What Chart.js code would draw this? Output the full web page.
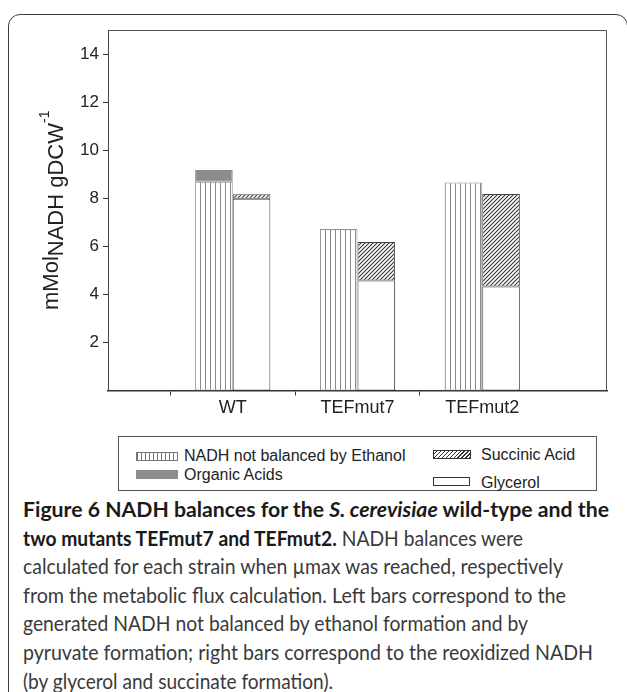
<!DOCTYPE html>
<html>
<head>
<meta charset="utf-8">
<script src="https://cdn.jsdelivr.net/npm/chart.js@4/dist/chart.umd.min.js"></script>
<style>
  html, body { margin:0; padding:0; background:#fff; }
  body { width:627px; height:692px; position:relative; overflow:hidden; font-family:"Liberation Sans", Arial, sans-serif; }
  #frame { position:absolute; left:8px; top:14px; width:620px; height:720px; border:1.6px solid #3a3a3a; border-radius:12px; box-sizing:border-box; }
  #wrap { position:absolute; left:0; top:0; width:627px; height:425px; }
  #legend { position:absolute; left:118px; top:436px; width:479px; height:55px; border:1.4px solid #555; box-sizing:border-box; }
  .li { position:absolute; font-size:16px; color:#222; white-space:nowrap; line-height:18px; }
  .sw { position:absolute; width:42px; height:9px; box-sizing:border-box; }
  #caption { position:absolute; left:23px; top:495px; font-family:Lato, "Open Sans", sans-serif; font-size:21px; color:#3a3a3a; }
  .cl { position:absolute; left:0; white-space:nowrap; transform-origin:0 0; font-weight:400; line-height:28px; }
  .cl b { color:#1a1a1a; font-weight:700; }
</style>
</head>
<body>
<div id="frame"></div>
<div id="wrap"><canvas id="c" width="627" height="425"></canvas></div>
<div id="legend"></div>
<div id="caption"></div>
<script>
// ---- data ----
const categories   = ['', 'WT', 'TEFmut7', 'TEFmut2', ''];
const nadhNotBalanced = [null, 8.69, 6.72, 8.65, null];
const organicAcids    = [null, 0.48, null, null, null];
const glycerol        = [null, 7.98, 4.58, 4.33, null];
const succinicAcid    = [null, 0.19, 1.60, 3.85, null];
const yTicks = [2, 4, 6, 8, 10, 12, 14];
const seriesNames = ['NADH not balanced by Ethanol', 'Organic Acids', 'Succinic Acid', 'Glycerol'];
const yTitleParts = [
  { t: 'mMol', size: 22, dy: 0 },
  { t: 'NADH gDCW', size: 22, dy: 5 },
  { t: '-1', size: 14, dy: -9 }
];
const captionLines = [
  '<b>Figure 6 NADH balances for the <i>S. cerevisiae</i> wild-type and the</b>',
  '<b>two mutants TEFmut7 and TEFmut2.</b> NADH balances were',
  'calculated for each strain when µmax was reached, respectively',
  'from the metabolic flux calculation. Left bars correspond to the',
  'generated NADH not balanced by ethanol formation and by',
  'pyruvate formation; right bars correspond to the reoxidized NADH',
  '(by glycerol and succinate formation).'
];
const captionLineWidths = [586, 500, 540, 543, 505, 570, 310];

// ---- patterns ----
function stripePattern() {
  const c = document.createElement('canvas'); c.width = 5; c.height = 5;
  const g = c.getContext('2d');
  g.fillStyle = '#fff'; g.fillRect(0,0,5,5);
  g.fillStyle = '#8a8a8a'; g.fillRect(0,0,1,5);
  return g.createPattern(c, 'repeat');
}
function hatchPattern() {
  const s = 4;
  const c = document.createElement('canvas'); c.width = s; c.height = s;
  const g = c.getContext('2d');
  g.fillStyle = '#fff'; g.fillRect(0,0,s,s);
  g.strokeStyle = '#333'; g.lineWidth = 1.1;
  g.beginPath();
  g.moveTo(-1, s+1); g.lineTo(s+1, -1);
  g.moveTo(-1, 1); g.lineTo(1, -1);
  g.moveTo(s-1, s+1); g.lineTo(s+1, s-1);
  g.stroke();
  return g.createPattern(c, 'repeat');
}
const ctx = document.getElementById('c').getContext('2d');
const stripe = stripePattern();
const hatch = hatchPattern();

const frameBox = {
  id: 'frameBox',
  afterDatasetsDraw(chart) {
    const a = chart.chartArea, g = chart.ctx;
    g.save();
    g.strokeStyle = '#555'; g.lineWidth = 1;
    g.beginPath();
    g.moveTo(a.left, a.top + 0.5); g.lineTo(a.right - 0.5, a.top + 0.5); g.lineTo(a.right - 0.5, a.bottom);
    g.stroke();
    g.restore();
  }
};
const yTitle = {
  id: 'yTitle',
  afterDraw(chart) {
    const g = chart.ctx, a = chart.chartArea;
    g.save();
    g.fillStyle = '#222';
    g.textBaseline = 'alphabetic';
    let total = 0;
    yTitleParts.forEach(p => { g.font = p.size + 'px "Liberation Sans", Arial'; p.w = g.measureText(p.t).width; total += p.w; });
    g.translate(58, (a.top + a.bottom) / 2);
    g.rotate(-Math.PI / 2);
    let x = -total / 2;
    yTitleParts.forEach(p => { g.font = p.size + 'px "Liberation Sans", Arial'; g.fillText(p.t, x, p.dy); x += p.w; });
    g.restore();
  }
};

new Chart(ctx, {
  type: 'bar',
  data: {
    labels: categories,
    datasets: [
      { label: seriesNames[0], data: nadhNotBalanced, stack: 'L', backgroundColor: stripe, borderColor: '#8f8f8f', borderWidth: 1, borderSkipped: false },
      { label: seriesNames[1], data: organicAcids, stack: 'L', backgroundColor: '#8c8c8c', borderColor: '#8c8c8c', borderWidth: 1, borderSkipped: false },
      { label: seriesNames[3], data: glycerol, stack: 'R', backgroundColor: '#fff', borderColor: '#444', borderWidth: 1, borderSkipped: false },
      { label: seriesNames[2], data: succinicAcid, stack: 'R', backgroundColor: hatch, borderColor: '#444', borderWidth: 1, borderSkipped: false }
    ]
  },
  options: {
    responsive: false,
    animation: false,
    layout: { padding: { top: 30, right: 20, left: 0, bottom: 0 } },
    plugins: { legend: { display: false }, tooltip: { enabled: false } },
    datasets: { bar: { categoryPercentage: 0.603, barPercentage: 1 } },
    scales: {
      x: {
        stacked: true,
        offset: false,
        grid: { drawOnChartArea: false, drawTicks: true, tickLength: 5, color: c => categories[c.index] ? '#333' : 'rgba(0,0,0,0)', lineWidth: 1 },
        border: { display: true, color: '#333', width: 1.6 },
        ticks: { autoSkip: false, maxRotation: 0, padding: 2, color: '#222', font: { family: '"Liberation Sans", Arial', size: 18 } },
        afterFit: s => { s.height = 34.5; }
      },
      y: {
        stacked: true,
        min: 0, max: 15,
        afterBuildTicks: s => { s.ticks = yTicks.map(v => ({ value: v })); },
        grid: { drawOnChartArea: false, drawTicks: true, tickLength: 5, color: '#333' },
        border: { display: true, color: '#444', width: 1 },
        ticks: { padding: 4, color: '#222', font: { family: '"Liberation Sans", Arial', size: 17 } },
        afterFit: s => { s.width = 108; }
      }
    }
  },
  plugins: [frameBox, yTitle]
});

// ---- legend ----
const leg = document.getElementById('legend');
const legItems = [
  { name: seriesNames[0], sx: 17, sy: 15, tx: 65, ty: 10, sw: 'background:repeating-linear-gradient(90deg,#777 0 1px,#fff 1px 4px);border:1px solid #777;' },
  { name: seriesNames[1], sx: 17, sy: 33, tx: 65, ty: 29, sw: 'background:#8c8c8c;' },
  { name: seriesNames[2], sx: 314, sy: 13, tx: 362, ty: 9, sw: 'width:38px;background:repeating-linear-gradient(135deg,#fff 0 1.6px,#333 1.6px 2.8px);border:1px solid #333;' },
  { name: seriesNames[3], sx: 314, sy: 40, tx: 362, ty: 37, sw: 'width:37px;background:#fff;border:1.2px solid #333;' }
];
legItems.forEach(it => {
  const s = document.createElement('div'); s.className = 'sw';
  s.style.cssText = 'left:' + it.sx + 'px;top:' + it.sy + 'px;' + it.sw;
  leg.appendChild(s);
  const t = document.createElement('div'); t.className = 'li';
  t.style.left = it.tx + 'px'; t.style.top = it.ty + 'px'; t.textContent = it.name;
  leg.appendChild(t);
});

// ---- caption ----
const cap = document.getElementById('caption');
captionLines.forEach((html, i) => {
  const d = document.createElement('div');
  d.className = 'cl';
  d.style.top = (i * 28.6) + 'px';
  d.innerHTML = html;
  cap.appendChild(d);
  const w = d.getBoundingClientRect().width;
  d.style.transform = 'scaleX(' + (captionLineWidths[i] / w) + ')';
});
</script>
</body>
</html>
